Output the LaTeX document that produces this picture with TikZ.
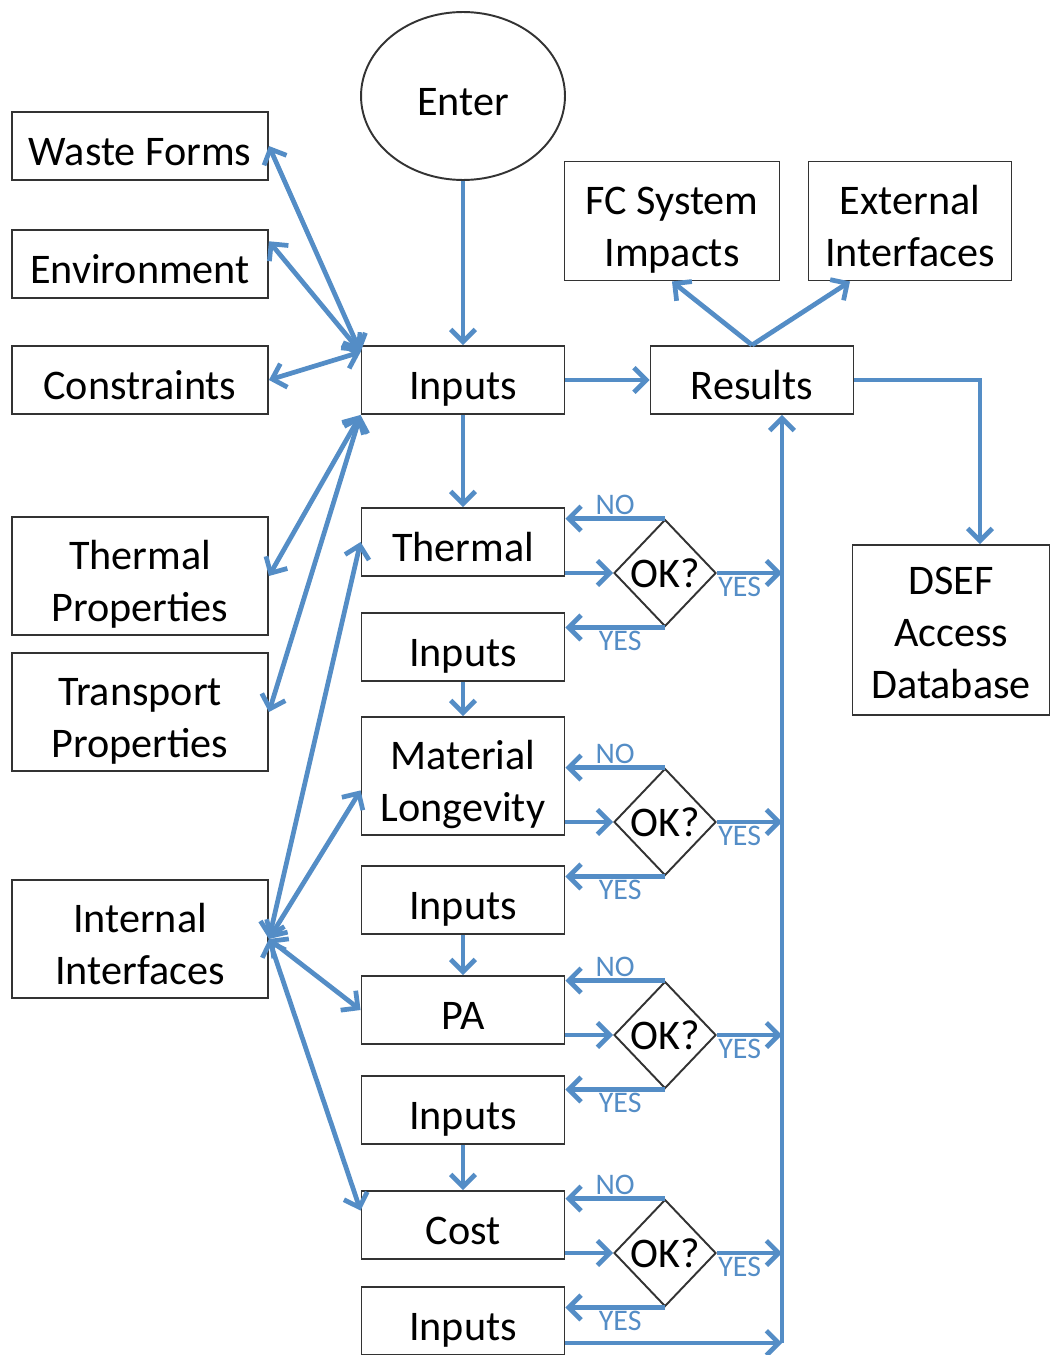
\documentclass[tikz,border=0pt]{standalone}
\usepackage{fontspec}
\setmainfont{Carlito}
\usetikzlibrary{shapes.geometric,arrows.meta}
\definecolor{flowblue}{RGB}{84,141,198}

\begin{document}
\begin{tikzpicture}[x=0.02cm, y=-0.02cm,
  box/.style={draw=black!80, line width=1.1pt, fill=white, minimum width=4.06cm,
    minimum height=1.36cm, align=center, inner sep=2pt, text height=22pt, text depth=0pt,
    font=\fontsize{24}{29.5}\selectfont},
  sidebox/.style={box, minimum width=5.12cm},
  tallbox/.style={minimum height=2.36cm, text height=51.5pt},
  okbox/.style={diamond, draw=black!80, line width=1.1pt, inner sep=0pt,
    minimum width=2.04cm, minimum height=2.14cm, font=\fontsize{24}{26}\selectfont},
  link/.style={draw=flowblue, line width=2.7pt, -{Straight Barb[length=7pt,width=14pt]}},
  twoway/.style={link, {Straight Barb[length=7pt,width=14pt]}-{Straight Barb[length=7pt,width=14pt]}},
  tag/.style={text=flowblue, inner sep=1pt, font=\fontsize{17}{17}\selectfont}
]
  \useasboundingbox (0,0) rectangle (1050,1355);

  \node[ellipse, draw=black!80, line width=1.1pt, minimum width=4.08cm, minimum height=3.36cm,
    text height=22pt, text depth=0pt, font=\fontsize{24}{26}\selectfont] (enter) at (463,96) {Enter};

  \node[sidebox] (waste) at (140,146) {Waste Forms};
  \node[sidebox] (env) at (140,264) {Environment};
  \node[sidebox] (cons) at (140,380) {Constraints};
  \node[sidebox, tallbox] (thprop) at (140,576) {Thermal\\Properties};
  \node[sidebox, tallbox] (trprop) at (140,712) {Transport\\Properties};
  \node[sidebox, tallbox] (intif) at (140,939) {Internal\\Interfaces};

  \node[box] (inputs) at (463,380) {Inputs};
  \node[box] (results) at (752,380) {Results};
  \node[box, tallbox, minimum width=4.3cm, minimum height=2.38cm] (fcsys) at (672,221) {FC System\\Impacts};
  \node[box, tallbox, minimum height=2.38cm] (extif) at (910,221) {External\\Interfaces};
  \node[box, minimum width=3.94cm, minimum height=3.4cm, text height=78pt] (dsef) at (951,630) {DSEF\\Access\\Database};

  \node[box] (thermal) at (463,542) {Thermal};
  \node[box] (inp2) at (463,647) {Inputs};
  \node[box, tallbox] (matlong) at (463,776) {Material\\Longevity};
  \node[box] (inp3) at (463,900) {Inputs};
  \node[box] (pa) at (463,1010) {PA};
  \node[box] (inp4) at (463,1110) {Inputs};
  \node[box] (cost) at (463,1225) {Cost};
  \node[box] (inp5) at (463,1321) {Inputs};

  \node[okbox] (ok1) at (665,573) {OK?};
  \node[okbox] (ok2) at (665,822) {OK?};
  \node[okbox] (ok3) at (665,1035) {OK?};
  \node[okbox] (ok4) at (665,1253) {OK?};

  \coordinate (busend) at (782,1343);

  \draw[link] (enter) -- (inputs);
  \draw[link] (inputs) -- (results);
  \draw[link] (inputs) -- (thermal);
  \draw[link] (inp2) -- (matlong);
  \draw[link] (inp3) -- (pa);
  \draw[link] (inp4) -- (cost);
  \draw[link] (results.north) -- (fcsys.south);
  \draw[link] (results.north) -- ([xshift=-1.2cm]extif.south);
  \draw[link] (results.east) -| ([xshift=0.58cm]dsef.north);
  \draw[link] (busend -| inp5.east) -- (busend);
  \draw[link] (busend) -- (busend |- results.south);

  \foreach \ok/\task/\next in {ok1/thermal/inp2, ok2/matlong/inp3, ok3/pa/inp4, ok4/cost/inp5} {
    \draw[link] (\ok.north) -- (\ok.north -| \task.east) node[tag, midway, above] {NO};
    \draw[link] (\ok.west -| \task.east) -- (\ok.west);
    \draw[link] (\ok.south) -- (\ok.south -| \next.east) node[tag, pos=0.45, below] {YES};
    \draw[link] (\ok.east) -- (\ok.east -| busend) node[tag, pos=0.35, below] {YES};
  }

  \draw[twoway] (waste.east) -- ([yshift=-4pt]inputs.north west);
  \draw[twoway] (env.10) -- ([yshift=-4pt]inputs.north west);
  \draw[twoway] (cons.east) -- ([yshift=-4pt]inputs.north west);
  \draw[twoway] (thprop.east) -- (inputs.south west);
  \draw[twoway] (trprop.east) -- (inputs.south west);
  \foreach \task/\spot in {thermal/west, matlong/188, pa/west, cost/172}
    \draw[twoway] (intif.east) -- (\task.\spot);
\end{tikzpicture}
\end{document}
